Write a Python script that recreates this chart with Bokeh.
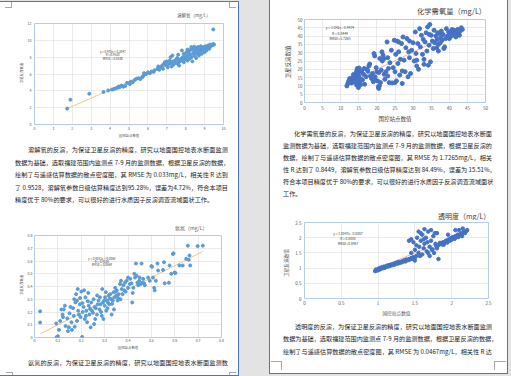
from bokeh.plotting import figure
from bokeh.layouts import row, column
from bokeh.models import Range1d, FixedTicker, NumeralTickFormatter, Label, Div
from bokeh.embed import file_html
from bokeh.resources import INLINE

# ---------------- data ----------------
x_label = "国控站点数值"
y_label = "卫星反演数值"

# 溶解氧 (dissolved oxygen)
do_title = "溶解氧（mg/L）"
do_ticks_x = [0, 1, 2, 3, 4, 5, 6, 7, 8, 9, 10]
do_ticks_y = [0, 2, 4, 6, 8, 10, 12]
do_x = [1.73, 1.90, 2.90, 3.65, 3.90, 4.10, 4.20, 4.30, 4.40, 4.45,
        4.50, 4.60, 4.70, 4.80, 4.90, 5.00, 5.05, 5.10, 5.20, 5.30,
        5.40, 5.50, 5.60, 5.70, 5.75, 5.80, 5.90, 6.00, 6.10, 6.20,
        6.30, 6.35, 6.50, 6.55, 6.60, 6.70, 6.75, 6.80, 6.85, 6.90,
        7.00, 7.00, 7.05, 7.10, 7.15, 7.20, 7.25, 7.30, 7.30, 7.35,
        7.40, 7.45, 7.50, 7.55, 7.60, 7.60, 7.65, 7.70, 7.75, 7.80,
        7.85, 7.90, 7.90, 7.95, 8.00, 8.00, 8.05, 8.10, 8.10, 8.15,
        8.20, 8.20, 8.25, 8.30, 8.30, 8.35, 8.40, 8.40, 8.45, 8.50,
        8.50, 8.55, 8.60, 8.60, 8.65, 8.70, 8.70, 8.75, 8.80, 8.80,
        8.85, 8.90, 8.90, 8.95, 9.00, 9.00, 9.05, 9.10, 9.10, 9.15,
        9.20, 9.20, 9.25, 9.30, 9.30, 9.35, 9.40, 9.45, 9.50, 9.46,
        8.10, 8.30, 7.60, 7.20, 8.45, 8.75, 9.05, 7.85, 8.55, 6.95]
do_y = [1.89, 2.95, 3.66, 3.86, 4.05, 4.15, 4.22, 4.30, 4.36, 4.52,
        4.42, 4.62, 4.50, 4.58, 4.95, 4.88, 4.80, 5.10, 5.02, 5.30,
        5.45, 5.50, 5.40, 5.62, 5.75, 6.10, 6.00, 6.20, 6.10, 6.30,
        6.25, 6.45, 6.60, 6.90, 6.50, 6.80, 7.00, 6.62, 7.20, 7.40,
        7.00, 7.50, 6.80, 7.20, 7.60, 7.30, 6.90, 8.20, 7.50, 7.10,
        7.40, 7.65, 7.30, 7.90, 7.20, 7.60, 7.00, 7.50, 7.80, 8.80,
        8.00, 8.40, 7.40, 7.70, 8.20, 7.90, 8.60, 7.60, 8.10, 8.50,
        8.80, 7.80, 8.30, 8.90, 8.00, 7.50, 8.50, 9.00, 8.20, 8.70,
        9.10, 7.90, 8.40, 8.90, 9.20, 8.60, 8.20, 9.00, 8.80, 9.30,
        8.40, 9.10, 8.70, 9.20, 9.00, 8.60, 9.30, 9.10, 8.80, 9.30,
        9.20, 9.40, 9.00, 9.30, 9.50, 9.40, 9.40, 9.55, 9.50, 11.30,
        8.90, 9.20, 8.30, 8.00, 9.25, 8.45, 8.95, 7.60, 8.95, 7.05]
do_trend_x = [1.73, 9.50]
do_trend_y = [1.90, 9.46]
do_eq = ["y = 0.975x + 0.2047", "R = 0.9528", "RMSE = 0.0330"]

# 氨氮 (ammonia nitrogen)
nh_title = "氨氮（mg/L）"
nh_ticks = [0, 0.1, 0.2, 0.3, 0.4, 0.5, 0.6, 0.7, 0.8]
nh_x = [0.024, 0.024, 0.093, 0.100, 0.095, 0.105, 0.110, 0.120, 0.122, 0.125,
        0.133, 0.140, 0.143, 0.147, 0.154, 0.158, 0.160, 0.168, 0.172, 0.175,
        0.178, 0.182, 0.182, 0.187, 0.190, 0.194, 0.197, 0.200, 0.204, 0.206,
        0.210, 0.215, 0.218, 0.222, 0.225, 0.230, 0.232, 0.235, 0.240, 0.243,
        0.246, 0.253, 0.257, 0.260, 0.267, 0.270, 0.274, 0.278, 0.280, 0.285,
        0.290, 0.293, 0.295, 0.300, 0.302, 0.307, 0.310, 0.314, 0.317, 0.320,
        0.324, 0.328, 0.330, 0.335, 0.338, 0.342, 0.345, 0.350, 0.352, 0.356,
        0.360, 0.366, 0.370, 0.373, 0.377, 0.380, 0.384, 0.387, 0.394, 0.400,
        0.400, 0.408, 0.415, 0.418, 0.423, 0.427, 0.430, 0.434, 0.437, 0.440,
        0.444, 0.448, 0.450, 0.455, 0.458, 0.462, 0.465, 0.469, 0.472, 0.486,
        0.493, 0.500, 0.503, 0.507, 0.512, 0.514, 0.519, 0.526, 0.529, 0.550,
        0.554, 0.557, 0.575, 0.578, 0.585, 0.592, 0.595, 0.600, 0.603, 0.620,
        0.634, 0.649, 0.656, 0.660, 0.663, 0.666, 0.698, 0.720, 0.115, 0.130,
        0.150, 0.165, 0.170, 0.185, 0.195, 0.205, 0.212, 0.220, 0.228, 0.238,
        0.250, 0.255, 0.262, 0.268, 0.282, 0.288, 0.298, 0.305, 0.312, 0.322,
        0.332, 0.340, 0.348, 0.358, 0.368, 0.390, 0.410, 0.420]
nh_y = [0.205, 0.118, 0.110, 0.010, 0.003, 0.060, 0.130, 0.180, 0.160, 0.220,
        0.090, 0.150, 0.050, 0.080, 0.240, 0.120, 0.060, 0.170, 0.085, 0.275,
        0.340, 0.130, 0.290, 0.210, 0.180, 0.260, 0.160, 0.360, 0.005, 0.200,
        0.240, 0.145, 0.315, 0.210, 0.120, 0.350, 0.250, 0.180, 0.080, 0.275,
        0.210, 0.300, 0.240, 0.145, 0.180, 0.260, 0.290, 0.220, 0.315, 0.200,
        0.380, 0.275, 0.145, 0.250, 0.315, 0.210, 0.290, 0.275, 0.330, 0.260,
        0.340, 0.300, 0.180, 0.290, 0.355, 0.315, 0.390, 0.330, 0.370, 0.290,
        0.340, 0.420, 0.445, 0.380, 0.340, 0.410, 0.370, 0.430, 0.445, 0.390,
        0.470, 0.420, 0.425, 0.275, 0.390, 0.500, 0.470, 0.580, 0.485, 0.430,
        0.410, 0.445, 0.470, 0.420, 0.580, 0.430, 0.460, 0.425, 0.410, 0.470,
        0.445, 0.560, 0.555, 0.470, 0.390, 0.370, 0.445, 0.580, 0.525, 0.530,
        0.590, 0.425, 0.430, 0.565, 0.500, 0.655, 0.660, 0.510, 0.505, 0.565,
        0.565, 0.617, 0.720, 0.610, 0.643, 0.565, 0.717, 0.720, 0.220, 0.250,
        0.190, 0.230, 0.300, 0.380, 0.310, 0.270, 0.370, 0.170, 0.285, 0.225,
        0.195, 0.105, 0.230, 0.330, 0.260, 0.170, 0.290, 0.355, 0.230, 0.305,
        0.265, 0.220, 0.360, 0.310, 0.300, 0.360, 0.460, 0.350]
nh_trend_x = [0.025, 0.720]
nh_trend_y = [0.030, 0.675]
nh_eq = ["y = 0.9282x + 0.0068", "R = 0.9106", "RMSE = 0.0569"]

# 化学需氧量 (COD)
cod_title = "化学需氧量（mg/L）"
cod_ticks = [0, 5, 10, 15, 20, 25, 30, 35, 40, 45, 50]
cod_x = [11.7, 12.0, 12.2, 12.4, 12.6, 12.8, 12.9, 13.0, 13.1, 13.2,
         13.3, 13.4, 13.5, 13.6, 13.7, 13.8, 13.9, 14.0, 14.0, 14.1,
         14.2, 14.3, 14.4, 14.5, 14.6, 14.6, 14.7, 14.8, 14.9, 15.0,
         15.1, 15.2, 15.4, 15.6, 15.8, 16.0, 16.3, 16.6, 17.0, 17.3,
         17.5, 17.8, 18.0, 18.2, 18.5, 18.8, 19.0, 19.2, 19.4, 19.5,
         19.6, 19.8, 20.0, 20.2, 20.4, 20.5, 20.7, 20.8, 21.0, 21.2,
         21.4, 21.5, 21.7, 22.0, 22.2, 22.5, 22.8, 23.0, 23.2, 23.4,
         23.6, 24.0, 24.2, 24.5, 24.8, 25.0, 25.2, 25.4, 25.6, 25.8,
         26.0, 26.3, 26.5, 26.8, 27.0, 27.2, 27.5, 27.8, 28.0, 28.3,
         28.6, 28.8, 29.0, 29.3, 29.6, 30.0, 30.3, 30.6, 30.8, 31.0,
         31.3, 31.5, 31.8, 32.0, 32.3, 32.6, 32.8, 33.0, 33.3, 33.6,
         33.8, 34.0, 34.2, 34.4, 34.6, 34.8, 35.0, 35.3, 35.6, 35.8,
         36.0, 36.3, 36.6, 36.8, 37.0, 37.3, 37.6, 37.8, 38.0, 38.3,
         38.5, 38.7, 39.0, 39.2, 39.5, 39.8, 40.0, 40.3, 40.6, 41.0,
         41.3, 41.6, 42.0, 42.3, 42.6, 43.0, 43.3, 43.6, 41.8, 40.8,
         37.0, 36.5, 33.0, 29.0, 27.0, 25.0, 22.0, 16.5, 13.5, 12.5,
         14.4, 15.5, 20.5, 23.0, 26.0, 31.0, 34.5, 37.5, 40.5, 42.8]
cod_y = [10.0, 11.5, 12.8, 12.0, 13.5, 12.5, 14.0, 11.8, 13.0, 14.5,
         12.2, 13.8, 15.0, 12.8, 14.2, 13.2, 15.5, 12.5, 14.8, 16.5,
         13.5, 18.0, 15.2, 19.5, 11.0, 20.5, 14.0, 17.5, 9.0, 16.0,
         20.8, 12.5, 18.5, 14.0, 19.0, 13.5, 17.0, 11.0, 15.5, 20.0,
         18.8, 22.0, 23.2, 16.0, 14.5, 17.5, 12.5, 29.5, 28.0, 15.5,
         13.5, 21.0, 18.5, 13.0, 9.5, 8.5, 10.0, 26.5, 12.0, 19.5,
         30.5, 25.0, 28.5, 17.0, 14.0, 18.5, 36.5, 27.0, 20.5, 12.0,
         24.0, 31.5, 11.8, 21.0, 37.5, 18.5, 29.0, 13.0, 37.0, 23.5,
         30.5, 16.5, 26.0, 35.5, 19.0, 39.5, 25.5, 18.5, 33.0, 38.5,
         15.5, 30.5, 27.0, 17.5, 31.5, 36.0, 25.0, 42.5, 29.5, 22.0,
         35.5, 20.0, 44.5, 33.5, 40.5, 29.0, 38.0, 23.0, 36.5, 42.0,
         31.0, 45.5, 22.5, 34.5, 47.0, 24.5, 40.5, 37.0, 32.5, 43.5,
         36.0, 40.0, 38.0, 42.0, 35.0, 41.5, 39.0, 43.0, 37.5, 41.0,
         32.5, 33.5, 38.5, 44.5, 40.0, 42.5, 38.5, 41.5, 40.0, 42.0,
         43.5, 41.0, 42.5, 44.0, 41.5, 43.0, 45.0, 44.0, 39.5, 44.0,
         31.0, 33.0, 26.0, 37.0, 11.5, 12.0, 26.5, 20.5, 16.8, 14.5,
         10.5, 10.8, 18.0, 16.0, 36.5, 25.5, 41.0, 36.0, 43.0, 40.5]
cod_trend_x = [12.0, 43.5]
cod_trend_y = [11.6, 44.4]
cod_eq = ["y = 1.042x - 0.9474", "R = 0.8449", "RMSE=1.7265"]

# 透明度 (transparency)
sd_title = "透明度（mg/L）"
sd_ticks = [0, 0.5, 1, 1.5, 2, 2.5]
sd_x = [0.96, 0.97, 0.98, 1.00, 1.00, 1.02, 1.04, 1.05, 1.07, 1.08,
        1.10, 1.12, 1.13, 1.15, 1.17, 1.18, 1.20, 1.22, 1.23, 1.25,
        1.27, 1.28, 1.30, 1.32, 1.33, 1.35, 1.37, 1.38, 1.40, 1.42,
        1.43, 1.45, 1.47, 1.48, 1.50, 1.52, 1.42, 1.45, 1.48, 1.50,
        1.52, 1.53, 1.55, 1.56, 1.58, 1.60, 1.60, 1.62, 1.63, 1.65,
        1.66, 1.68, 1.70, 1.70, 1.72, 1.73, 1.75, 1.76, 1.78, 1.80,
        1.80, 1.82, 1.45, 1.50, 1.82, 1.85, 1.87, 1.88, 1.90, 1.92,
        1.93, 1.95, 1.97, 1.98, 2.00, 2.00, 2.02, 2.03, 2.05, 2.07,
        2.08, 2.10, 2.12, 2.13, 2.15, 2.17, 2.18, 2.20, 2.15, 2.10,
        2.05, 1.95, 2.21, 1.55, 1.58, 1.63, 1.67, 1.72, 1.77, 1.62,
        1.03, 1.09, 1.16, 1.21, 1.26, 1.31, 1.36, 1.41, 1.46, 1.57,
        1.68, 1.74, 1.79, 1.84, 1.89, 1.94, 1.99, 2.04, 2.09, 2.14]
sd_y = [0.90, 0.95, 0.92, 0.97, 0.93, 1.00, 0.98, 1.03, 1.00, 1.05,
        1.04, 1.08, 1.05, 1.10, 1.09, 1.12, 1.10, 1.15, 1.12, 1.17,
        1.15, 1.20, 1.18, 1.22, 1.20, 1.25, 1.22, 1.28, 1.26, 1.30,
        1.28, 1.33, 1.30, 1.36, 1.35, 1.40, 1.90, 1.95, 1.85, 1.60,
        1.75, 2.00, 1.50, 1.70, 1.90, 1.45, 2.10, 1.65, 1.80, 2.00,
        1.55, 2.20, 1.70, 1.40, 1.90, 1.60, 2.05, 1.50, 1.80, 2.15,
        1.65, 1.30, 1.50, 1.25, 1.75, 1.80, 1.78, 1.85, 1.82, 1.90,
        1.87, 1.93, 1.90, 1.97, 1.95, 2.00, 2.02, 1.98, 2.05, 2.03,
        2.10, 2.07, 2.13, 2.10, 2.17, 2.20, 2.15, 2.22, 2.30, 2.25,
        2.25, 2.10, 2.25, 2.20, 2.15, 2.28, 1.85, 2.25, 2.15, 1.95,
        0.96, 1.01, 1.07, 1.13, 1.18, 1.19, 1.24, 1.27, 1.32, 1.40,
        1.50, 1.62, 1.72, 1.83, 1.77, 1.84, 1.92, 1.96, 2.02, 2.05]
sd_trend_x = [0.95, 2.20]
sd_trend_y = [0.95, 2.20]
sd_eq = ["y = 1.0047x - 0.0087", "R = 0.8858", "RMSE=0.0467"]

# document text (one entry per printed line)
para_do = ["溶解氧的反演，为保证卫星反演的精度，研究以地面国控地表水断面监测",
           "数据为基础，选取福建范围内监测点 7-9 月的监测数据，根据卫星反演的数据，",
           "绘制了与遥感估算数据的散点密度图，其 RMSE 为 0.033mg/L，相关性 R 达到",
           "了 0.9528，溶解氧参数日级估算精度达到95.28%，误差为4.72%，符合本项目",
           "精度优于 80%的要求，可以很好的进行水质因子反演调查流域面状工作。"]
para_nh = ["氨氮的反演，为保证卫星反演的精度，研究以地面国控地表水断面监测数"]
para_cod = ["化学需氧量的反演，为保证卫星反演的精度，研究以地面国控地表水断面",
            "监测数据为基础，选取福建范围内监测点 7-9 月的监测数据，根据卫星反演的",
            "数据，绘制了与遥感估算数据的散点密度图，其 RMSE 为 1.7265mg/L，相关",
            "性 R 达到了 0.8449，溶解氧参数日级估算精度达到 84.49%，误差为 15.51%，",
            "符合本项目精度优于 80%的要求，可以很好的进行水质因子反演调查流域面状",
            "工作。"]
para_sd = ["透明度的反演，为保证卫星反演的精度，研究以地面国控地表水断面监测",
           "数据为基础，选取福建范围内监测点 7-9 月的监测数据，根据卫星反演的数据，",
           "绘制了与遥感估算数据的散点密度图，其 RMSE 为 0.0467mg/L，相关性 R 达"]

# ---------------- styling ----------------
CJK = "Noto Sans CJK SC"
BLUE = "#4a76c6"
GAP = "#e3e3e3"
MARK = "#a8a8a8"
TXT = "#1c1c1c"
PARA_PX = 6.15


def box(x, y, w, h, color):
    return (f'<div style="position:absolute;left:{x}px;top:{y}px;width:{w}px;'
            f'height:{h}px;background:{color};"></div>')


def txt(x, yc, s, size, color=TXT, width=None, justify=False):
    top = yc - 0.66 * size
    st = (f"position:absolute;left:{x}px;top:{top:.2f}px;font-size:{size}px;"
          f"line-height:{1.2 * size:.2f}px;color:{color};white-space:nowrap;")
    if width is not None:
        st += f"width:{width}px;"
    if justify:
        st += "text-align:justify;text-align-last:justify;"
    return f'<div style="{st}">{s}</div>'


def vtxt(cx, cy, s, size, color):
    st = (f"position:absolute;left:{cx}px;top:{cy}px;font-size:{size}px;"
          f"line-height:{1.2 * size:.2f}px;color:{color};white-space:nowrap;"
          "transform:translate(-50%,-50%) rotate(-90deg);")
    return f'<div style="{st}">{s}</div>'


def para(lines, y0, dy, x_first, w_first, x_rest, w_rest, last_is_end):
    out = []
    for i, s in enumerate(lines):
        x, w = (x_first, w_first) if i == 0 else (x_rest, w_rest)
        just = not (last_is_end and i == len(lines) - 1)
        out.append(txt(x, y0 + i * dy, s, PARA_PX, width=w, justify=just))
    return "".join(out)


def sheet(w, h, parts, bg="white"):
    html = (f'<div style="position:relative;width:{w}px;height:{h}px;overflow:hidden;'
            f'background:{bg};font-family:\'{CJK}\',sans-serif;margin:0;padding:0;">'
            + "".join(parts) + "</div>")
    return Div(text=html, width=w, height=h, margin=0)


def chart(w, h, xr, yr, xt, yt, bl, br, bt, bb, tick_px, lab_px, lab_col,
          xs_t, xs_l, ys_t):
    p = figure(width=w, height=h, x_range=Range1d(*xr), y_range=Range1d(*yr),
               tools="", toolbar_location=None, output_backend="svg",
               min_border_left=bl, min_border_right=br,
               min_border_top=bt, min_border_bottom=bb)
    p.background_fill_color = "white"
    p.border_fill_color = "white"
    p.outline_line_color = "#b7cbeb"
    p.outline_line_width = 1
    p.xaxis.ticker = FixedTicker(ticks=xt)
    p.yaxis.ticker = FixedTicker(ticks=yt)
    p.xaxis.formatter = NumeralTickFormatter(format="0.[0]")
    p.yaxis.formatter = NumeralTickFormatter(format="0.[0]")
    p.grid.grid_line_color = "#dedede"
    p.grid.grid_line_width = 0.6
    for ax in (p.xaxis, p.yaxis):
        ax.axis_line_color = None
        ax.major_tick_line_color = None
        ax.minor_tick_line_color = None
        ax.major_tick_out = 0
        ax.major_tick_in = 0
        ax.minor_tick_out = 0
        ax.minor_tick_in = 0
        ax.major_label_text_font_size = tick_px
        ax.major_label_text_color = "#595959"
        ax.major_label_text_font = CJK
    p.xaxis.axis_label = x_label
    p.xaxis.axis_label_text_font = CJK
    p.xaxis.axis_label_text_font_size = lab_px
    p.xaxis.axis_label_text_font_style = "normal"
    p.xaxis.axis_label_text_color = lab_col
    p.xaxis.major_label_standoff = xs_t
    p.xaxis.axis_label_standoff = xs_l
    p.yaxis.major_label_standoff = ys_t
    return p


def equation(p, x, ys, lines, size):
    for y, t in zip(ys, lines):
        p.add_layout(Label(x=x, y=y, text=t, text_align="center", text_baseline="middle",
                           text_font=CJK, text_font_size=size, text_color="#404040"))


# ---------------- left page ----------------
LW = 238
dA = sheet(LW, 20, [
    box(0, 0, LW, 1, GAP), box(0, 1, LW, 1, BLUE),
    box(11, 2, 1, 5, MARK), box(5, 7, 7, 1, MARK),
    box(229, 2, 1, 5, MARK), box(229, 7, 7, 1, MARK),
    txt(177, 15.7, do_title, 4.5, color="#595959"),
])

YL = 24
y1 = sheet(YL, 120, [vtxt(22.2, 53.3, y_label, 3.4, "#595959")])
c1 = chart(LW - YL, 120, (0, 10), (0, 12), do_ticks_x, do_ticks_y, 8, 15, 3, 16,
           "3.6px", "3.4px", "#595959", 2, 0, 3)
c1.line(do_trend_x, do_trend_y, line_color="#f3c77f", line_width=1)
c1.scatter(do_x, do_y, size=3, color="#5b9bd5")
equation(c1, 4.14, [8.67, 8.26, 7.84], do_eq, "3px")

dB = sheet(LW, 92, [
    para(para_do, 10, 12.6, 28, 200, 15, 213, True),
    txt(175, 88, nh_title, 5, color="#595959"),
])

y2 = sheet(YL, 123, [vtxt(22.2, 53, y_label, 3.4, "#595959")])
c2 = chart(LW - YL, 123, (0, 0.8), (0, 0.8), nh_ticks, nh_ticks, 8, 17, 3, 18,
           "3.6px", "3.4px", "#595959", 1, 0, 2)
c2.line(nh_trend_x, nh_trend_y, line_color="#f3c77f", line_width=1)
c2.scatter(nh_x, nh_y, size=3, color="#5b9bd5")
equation(c2, 0.288, [0.617, 0.591, 0.565], nh_eq, "3px")

dC = sheet(LW, 21, [
    para(para_nh, 8, 0, 28, 200, 15, 213, False),
    box(12, 17, 1, 3, MARK), box(6, 17, 7, 1, MARK),
    box(229, 17, 1, 3, MARK), box(229, 17, 7, 1, MARK),
    box(0, 20, LW, 1, BLUE),
])

left = column(dA, row(y1, c1), dB, row(y2, c2), dC)

# ---------------- gap between pages ----------------
gap = sheet(32, 376, [box(0, 1, 1, 375, BLUE), box(31, 0, 1, 374, BLUE)], bg=GAP)

# ---------------- right page ----------------
RW = 237
dR1 = sheet(RW, 17, [txt(147, 12, cod_title, 7.3, color="#404040")])

y3 = sheet(24, 108, [vtxt(18, 45, y_label, 5.5, "#404040")])
c3 = chart(RW - 24, 108, (0, 50), (0, 50), cod_ticks, cod_ticks, 8, 22, 2, 22,
           "4.5px", "5.5px", "#404040", 3, 2, 2)
c3.line(cod_trend_x, cod_trend_y, line_color="#e9a18f", line_width=0.8)
c3.scatter(cod_x, cod_y, size=4, color="#4472c4")
equation(c3, 9.8, [45.0, 41.8, 38.6], cod_eq, "3.4px")

dR2 = sheet(RW, 95, [
    para(para_cod, 9.5, 12, 24, 198, 13, 209, True),
    txt(168, 91.7, sd_title, 7, color="#404040"),
])

y4 = sheet(22, 98, [vtxt(17, 43, y_label, 4.7, "#595959")])
c4 = chart(RW - 22, 98, (0, 2.5), (0, 2.5), sd_ticks, sd_ticks, 9, 19, 2, 17,
           "4.5px", "4.7px", "#595959", 2, 2, 3)
c4.line(sd_trend_x, sd_trend_y, line_color="#e9a18f", line_width=0.8)
c4.scatter(sd_x, sd_y, size=3.5, color="#4472c4")
equation(c4, 0.59, [2.14, 1.98, 1.82], sd_eq, "3.3px")

dR3 = sheet(RW, 58, [
    para(para_sd, 9, 12.5, 25, 197, 13, 209, False),
    box(11, 43, 1, 9, MARK), box(1, 43, 11, 1, MARK),
    box(224, 43, 1, 9, MARK), box(224, 43, 12, 1, MARK),
    box(0, 55, RW, 1, BLUE), box(0, 56, RW, 2, GAP),
])

right = column(dR1, row(y3, c3), dR2, row(y4, c4), dR3)

strip = sheet(4, 376, [box(0, 0, 1, 374, BLUE)], bg=GAP)

page = row(left, gap, right, strip)

open("out.html", "w").write(file_html(page, INLINE))
